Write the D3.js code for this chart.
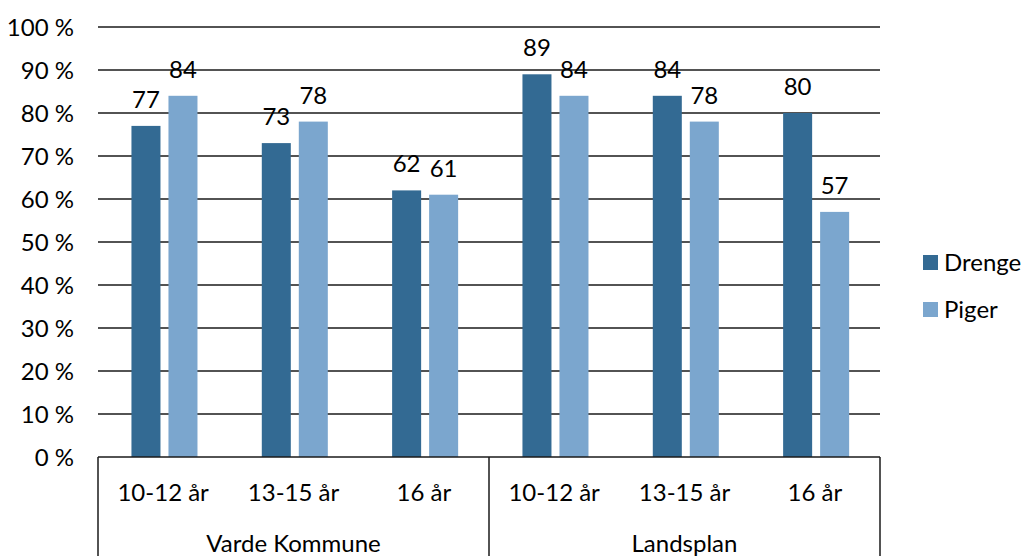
<!DOCTYPE html>
<html><head><meta charset="utf-8">
<script src="https://cdn.jsdelivr.net/npm/d3@7"></script>
<style>body{margin:0;background:#fff}svg{display:block}text{font-family:Lato,"Open Sans",sans-serif;fill:#000}</style>
</head><body><svg id="c" width="1024" height="556"></svg>
<script>
const groups = ["Varde Kommune", "Landsplan"];
const ages = ["10-12 år", "13-15 år", "16 år"];
const series = ["Drenge", "Piger"];
const drenge = [77, 73, 62, 89, 84, 80];
const piger = [84, 78, 61, 84, 78, 57];
const yTicks = [0, 10, 20, 30, 40, 50, 60, 70, 80, 90, 100];
const colors = ["#336a93", "#7ba6ce"];
const FS = 24;

const svg = d3.select("#c");
const L = 98, R = 880, T = 27, B = 457;
const cats = [];
groups.forEach((g, gi) => ages.forEach((a, ai) => cats.push({g, a, i: gi * ages.length + ai})));
const x0 = d3.scaleBand().domain(cats.map(c => c.i)).range([L, R]);
const x1 = d3.scaleBand().domain(series).range([1.3, x0.bandwidth() + 1.3]).paddingInner(0.216).paddingOuter(0.869);
const y = d3.scaleLinear().domain([0, 100]).range([B, T]);

svg.append("g").selectAll("line").data(yTicks.filter(t => t > 0)).join("line")
  .attr("x1", L).attr("x2", R).attr("y1", d => y(d)).attr("y2", d => y(d))
  .attr("stroke", "#1a1a1a").attr("stroke-width", 1.3);

svg.append("g").selectAll("text").data(yTicks).join("text")
  .attr("x", 74).attr("y", d => y(d)).attr("dy", "0.36em").attr("text-anchor", "end")
  .attr("font-size", FS).text(d => d + " %");

const vals = [drenge, piger];
const gBars = svg.append("g");
series.forEach((s, si) => {
  gBars.selectAll("rect.s" + si).data(vals[si]).join("rect")
    .attr("x", (d, i) => x0(i) + x1(s)).attr("width", x1.bandwidth())
    .attr("y", d => y(d)).attr("height", d => B - y(d)).attr("fill", colors[si]);
  gBars.selectAll("text.s" + si).data(vals[si]).join("text")
    .attr("x", (d, i) => x0(i) + x1(s) + x1.bandwidth() / 2).attr("y", d => y(d) - 18)
    .attr("text-anchor", "middle").attr("font-size", FS).text(d => d);
});

svg.append("line").attr("x1", L).attr("x2", R).attr("y1", B).attr("y2", B)
  .attr("stroke", "#1a1a1a").attr("stroke-width", 1.5);
const divs = [0, ages.length, cats.length].map(i => i < cats.length ? x0(i) : R);
svg.append("g").selectAll("line").data(divs).join("line")
  .attr("x1", d => d).attr("x2", d => d).attr("y1", B).attr("y2", 556)
  .attr("stroke", "#1a1a1a").attr("stroke-width", 1.5);
svg.append("g").selectAll("text").data(cats).join("text")
  .attr("x", d => x0(d.i) + x0.bandwidth() / 2).attr("y", 492).attr("dy", "0.36em")
  .attr("text-anchor", "middle").attr("font-size", FS).text(d => d.a);
svg.append("g").selectAll("text").data(groups).join("text")
  .attr("x", (d, gi) => (x0(gi * ages.length) + (gi === groups.length - 1 ? R : x0((gi + 1) * ages.length))) / 2)
  .attr("y", 543).attr("dy", "0.36em").attr("text-anchor", "middle").attr("font-size", FS).text(d => d);

const lg = svg.append("g");
series.forEach((s, si) => {
  lg.append("rect").attr("x", 923).attr("y", 255 + si * 47).attr("width", 15).attr("height", 15).attr("fill", colors[si]);
  lg.append("text").attr("x", 944).attr("y", 262 + si * 47).attr("dy", "0.36em").attr("font-size", FS).text(s);
});
</script></body></html>
